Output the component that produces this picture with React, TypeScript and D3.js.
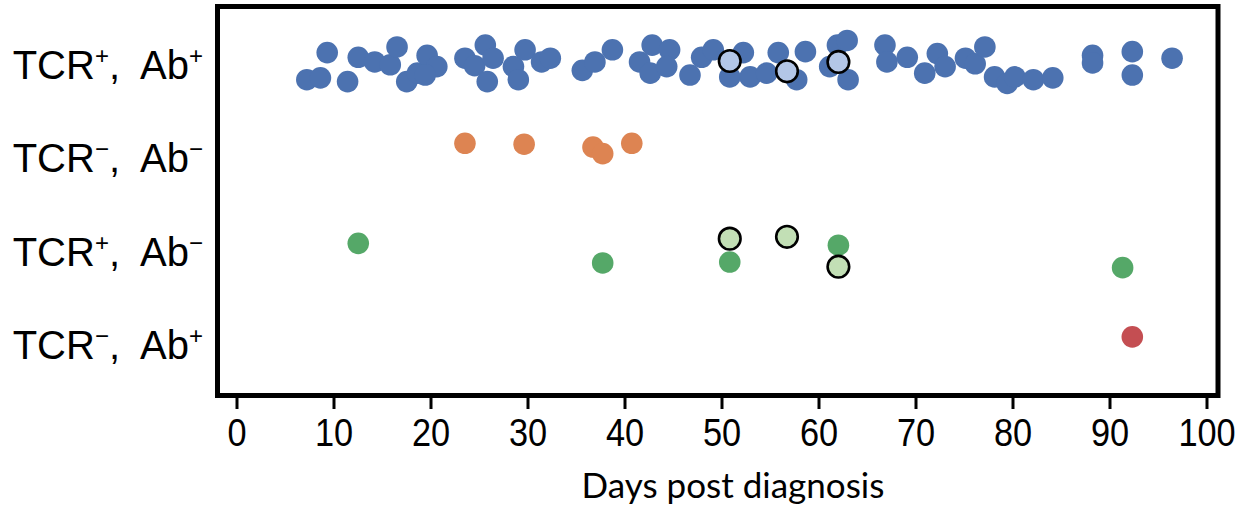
import React from "react";
import * as d3 from "d3";

// rows, top to bottom: TCR sign, Ab sign
const rowTcr = ["+", "−", "+", "−"];
const rowAb = ["+", "−", "−", "+"];
const xTicks = [0, 10, 20, 30, 40, 50, 60, 70, 80, 90, 100];

// TCR+, Ab+ (row 0): day and vertical jitter (row units)
const posPosDays = [
  7.2, 8.6, 9.3, 11.4, 12.5, 14.2, 15.8, 16.5, 17.5, 18.6, 19.6, 20.6, 19.4,
  23.5, 24.5, 25.6, 26.4, 25.8, 28.5, 29.0, 29.7, 31.4, 32.3, 35.6, 36.9, 38.7,
  41.5, 42.8, 42.6, 44.6, 44.3, 46.7, 47.9, 49.1, 50.8, 52.2, 52.9, 54.6, 55.8,
  57.7, 58.6, 61.1, 61.9, 62.9, 63.0, 66.8, 67.0, 69.1, 70.9, 72.2, 73.0, 75.1,
  76.1, 77.1, 78.1, 79.4, 80.2, 82.1, 84.1, 88.2, 88.2, 92.3, 92.3, 96.4,
];
const posPosJitter = [
  0.16, 0.14, -0.13, 0.18, -0.08, -0.03, 0.0, -0.19, 0.18, 0.09, -0.1, 0.02, 0.11,
  -0.07, 0.01, -0.21, -0.07, 0.18, 0.02, 0.16, -0.16, -0.03, -0.07, 0.06, -0.03, -0.16,
  -0.03, -0.21, 0.09, -0.16, 0.02, 0.11, -0.08, -0.16, 0.13, -0.13, 0.13, 0.09, -0.13,
  0.16, -0.14, 0.02, -0.21, -0.26, 0.16, -0.21, -0.03, -0.08, 0.09, -0.12, 0.02, -0.07,
  -0.01, -0.19, 0.13, 0.2, 0.13, 0.16, 0.14, -0.1, -0.02, -0.14, 0.11, -0.07,
];
const posPosMarkedDays = [50.8, 56.7, 62.0];
const posPosMarkedJitter = [-0.04, 0.07, -0.03];

// TCR-, Ab- (row 1)
const negNegDays = [23.5, 29.6, 36.7, 37.7, 40.7];
const negNegJitter = [-0.16, -0.15, -0.12, -0.05, -0.16];

// TCR+, Ab- (row 2)
const posNegDays = [12.5, 37.7, 50.8, 62.0, 91.3];
const posNegJitter = [-0.09, 0.12, 0.11, -0.07, 0.17];
const posNegMarkedDays = [50.8, 56.7, 62.0];
const posNegMarkedJitter = [-0.14, -0.16, 0.16];

// TCR-, Ab+ (row 3)
const negPosDays = [92.3];
const negPosJitter = [-0.09];

const x = d3.scaleLinear().domain([0, 100]).range([237, 1207]);
const y = d3.scaleLinear().domain([-0.5, 3.5]).range([18, 392]);

const R = 10.8;

const dots = (days: number[], jit: number[], row: number, fill: string, marked = false) =>
  days.map((d, i) => (
    <circle
      key={`${row}-${marked}-${i}`}
      cx={x(d)}
      cy={y(row + jit[i])}
      r={R}
      fill={fill}
      stroke={marked ? "#000" : "none"}
      strokeWidth={marked ? 2.6 : 0}
    />
  ));

export default function App() {
  return (
    <svg width={1248} height={511} style={{ display: "block", position: "absolute", left: 0, top: 0 }}>
      {rowTcr.map((t, i) => (
        <text
          key={i}
          x={203}
          y={y(i) + 14}
          textAnchor="end"
          fontFamily="Liberation Sans, Arial, sans-serif"
          fontSize={40}
          fill="#000"
        >
          TCR
          <tspan fontSize={24} dy={-15}>{t}</tspan>
          <tspan dy={15}>,</tspan>
          <tspan dx={20}>Ab</tspan>
          <tspan fontSize={24} dy={-15}>{rowAb[i]}</tspan>
        </text>
      ))}

      {dots(posPosDays, posPosJitter, 0, "#4C72B0")}
      {dots(posPosMarkedDays, posPosMarkedJitter, 0, "#B3C6E7", true)}
      {dots(negNegDays, negNegJitter, 1, "#DD8452")}
      {dots(posNegDays, posNegJitter, 2, "#55A868")}
      {dots(posNegMarkedDays, posNegMarkedJitter, 2, "#C2DFB5", true)}
      {dots(negPosDays, negPosJitter, 3, "#C44E52")}

      <rect x={217.5} y={6.5} width={1000.5} height={389} fill="none" stroke="#000" strokeWidth={5} />

      {xTicks.map((t) => (
        <g key={t} transform={`translate(${x(t)},0)`}>
          <line y1={398} y2={409} stroke="#000" strokeWidth={3} />
          <text
            y={446}
            textAnchor="middle"
            fontFamily="Liberation Sans Narrow, Arial Narrow, sans-serif"
            fontSize={39}
            fill="#000"
            transform="scale(0.88,1)"
          >
            {t}
          </text>
        </g>
      ))}

      <text x={733} y={498} textAnchor="middle" fontFamily="Lato, Carlito, sans-serif" fontSize={35} fill="#000">
        Days post diagnosis
      </text>
    </svg>
  );
}
